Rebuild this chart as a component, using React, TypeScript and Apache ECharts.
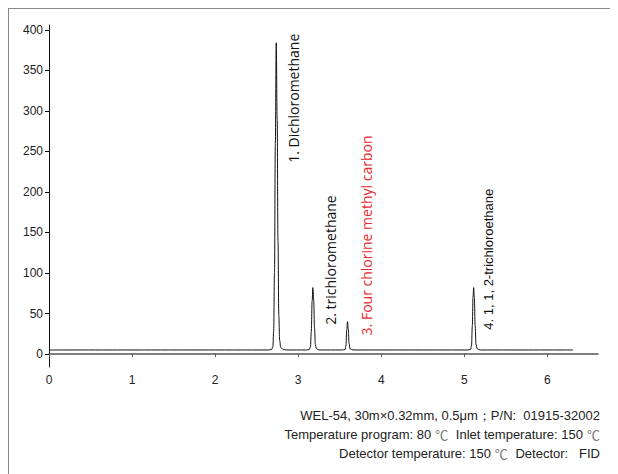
import React, { useEffect, useRef } from "react";
import * as echarts from "echarts";

// Retention time (min) vs. detector signal for each peak region
const baselineStart: [number, number][] = [[0, 5]];
const peakDichloromethane: [number, number][] = [
  [2.64, 5], [2.68, 5.5], [2.695, 9], [2.705, 28], [2.715, 100], [2.725, 260],
  [2.736, 384], [2.747, 290], [2.757, 140], [2.767, 48], [2.777, 17], [2.79, 8],
  [2.82, 5.5], [2.86, 5],
];
const peakTrichloromethane: [number, number][] = [
  [3.1, 5], [3.135, 5.5], [3.148, 9], [3.158, 28], [3.168, 65], [3.177, 82],
  [3.187, 66], [3.197, 32], [3.207, 12], [3.22, 6.5], [3.25, 5],
];
const peakCarbonTetrachloride: [number, number][] = [
  [3.53, 5], [3.565, 5.5], [3.575, 10], [3.585, 30], [3.594, 40], [3.603, 31],
  [3.613, 13], [3.625, 6.5], [3.66, 5],
];
const peakTrichloroethane: [number, number][] = [
  [5.04, 5], [5.075, 5.5], [5.087, 10], [5.097, 35], [5.105, 70], [5.113, 82],
  [5.121, 70], [5.131, 35], [5.141, 12], [5.155, 6.5], [5.19, 5],
];
const baselineEnd: [number, number][] = [[6.31, 5]];

const xTicks = [0, 1, 2, 3, 4, 5, 6];
const yTicks = [0, 50, 100, 150, 200, 250, 300, 350, 400];

// Peak annotations: text, anchor (time, signal) at the start of the rotated text
const peakLabels = [
  { text: "1. Dichloromethane", at: [2.94, 236], color: "#111", font: "Open Sans", size: 14 },
  { text: "2. trichloromethane", at: [3.386, 36], color: "#111", font: "Open Sans", size: 14 },
  { text: "3. Four chlorine methyl carbon", at: [3.82, 23], color: "#e8292c", font: "Open Sans", size: 14 },
  { text: "4. 1, 1, 2-trichloroethane", at: [5.29, 30], color: "#111", font: "Liberation Sans", size: 13 },
];

const methodLines = [
  "WEL-54, 30m×0.32mm, 0.5μm；P/N:  01915-32002",
  "Temperature program: 80℃ Inlet temperature: 150℃",
  "Detector temperature: 150℃ Detector:   FID",
];

// Wrap the degree sign in its own rich-text style so it uses the CJK glyph
const toRich = (t: string) => t.split("℃").join("{c|℃}");

export default function App() {
  const ref = useRef<HTMLDivElement>(null);

  useEffect(() => {
    if (!ref.current) return;
    const chart = echarts.init(ref.current, undefined, { renderer: "svg" });
    const signal = [
      ...baselineStart,
      ...peakDichloromethane,
      ...peakTrichloromethane,
      ...peakCarbonTetrachloride,
      ...peakTrichloroethane,
      ...baselineEnd,
    ];
    const tickFont = { fontFamily: "Liberation Sans", fontSize: 12, color: "#222" };

    chart.setOption({
      animation: false,
      grid: { left: 40, top: 16, width: 549, height: 342 },
      xAxis: {
        type: "value",
        min: 0,
        max: 6.61,
        splitLine: { show: false },
        axisLine: { lineStyle: { color: "#555", width: 1.5 } },
        axisTick: { customValues: xTicks, length: 3, lineStyle: { color: "#555" } },
        axisLabel: { customValues: xTicks, margin: 7, ...tickFont },
      },
      yAxis: {
        type: "value",
        min: -16,
        max: 406,
        splitLine: { show: false },
        axisLine: { show: true, lineStyle: { color: "#111", width: 1 } },
        axisTick: { show: true, customValues: yTicks, length: 4, lineStyle: { color: "#111" } },
        axisLabel: { customValues: yTicks, margin: 6, ...tickFont },
      },
      series: [
        {
          type: "line",
          data: signal,
          showSymbol: false,
          smooth: 0.4,
          smoothMonotone: "x",
          lineStyle: { color: "#111", width: 1 },
        },
      ],
    });

    const labelGraphics = peakLabels.map((l) => {
      const [px, py] = chart.convertToPixel({ gridIndex: 0 }, l.at) as number[];
      return {
        type: "text",
        x: px,
        y: py,
        rotation: Math.PI / 2,
        style: {
          text: l.text,
          fill: l.color,
          fontFamily: l.font,
          fontSize: l.size,
          align: "left",
          verticalAlign: "middle",
        },
      };
    });
    const methodGraphics = methodLines.map((t, i) => ({
      type: "text",
      right: 18,
      top: 400 + i * 19,
      style: {
        text: toRich(t),
        fill: "#222",
        fontFamily: "Liberation Sans",
        fontSize: 13,
        align: "right",
        rich: {
          c: { fontFamily: "Noto Sans CJK SC", fontSize: 13, fill: "#777", padding: [0, 4, 0, 4] },
        },
      },
    }));
    chart.setOption({ graphic: [...labelGraphics, ...methodGraphics] });

    return () => chart.dispose();
  }, []);

  return (
    <div
      ref={ref}
      style={{
        width: 609,
        height: 465,
        borderTop: "1px solid #888",
        borderLeft: "1px solid #888",
      }}
    />
  );
}
